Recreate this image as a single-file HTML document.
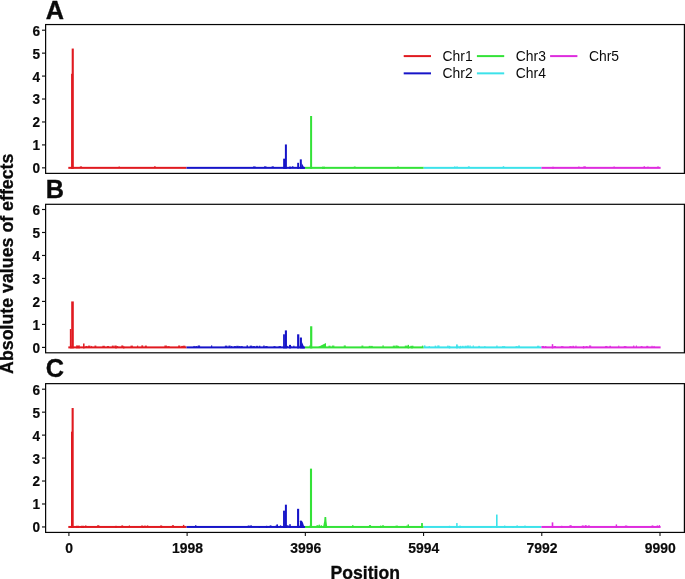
<!DOCTYPE html><html><head><meta charset="utf-8"><title>Figure</title>
<style>html,body{margin:0;padding:0;background:#fff;}body{width:685px;height:579px;overflow:hidden;}svg{display:block;will-change:transform;opacity:0.999;}text{font-family:"Liberation Sans",sans-serif;fill:#0a0a0a;}.b{font-weight:bold;}</style></head><body>
<svg width="685" height="579" viewBox="0 0 685 579">
<rect width="685" height="579" fill="#fff"/>
<g shape-rendering="auto">
<rect x="68.30" y="166.85" width="118.20" height="2.00" fill="#e01a20"/>
<rect x="186.50" y="166.85" width="118.50" height="2.00" fill="#1614c8"/>
<rect x="305.00" y="166.85" width="118.70" height="2.00" fill="#34e238"/>
<rect x="423.70" y="166.85" width="117.70" height="2.00" fill="#3ce2ea"/>
<rect x="541.40" y="166.85" width="119.20" height="2.00" fill="#de2cde"/>
<rect x="71.10" y="73.79" width="2.00" height="95.06" fill="#e01a20"/>
<rect x="71.70" y="48.55" width="2.10" height="120.30" fill="#e01a20"/>
<rect x="283.15" y="158.67" width="1.90" height="10.18" fill="#1614c8"/>
<rect x="284.90" y="144.45" width="2.00" height="24.40" fill="#1614c8"/>
<rect x="289.30" y="166.47" width="1.40" height="2.38" fill="#1614c8"/>
<rect x="297.20" y="162.80" width="1.80" height="6.05" fill="#1614c8"/>
<rect x="299.80" y="159.36" width="2.00" height="9.49" fill="#1614c8"/>
<rect x="310.10" y="116.00" width="2.00" height="52.85" fill="#34e238"/>
<rect x="322.00" y="166.70" width="3.00" height="2.15" fill="#34e238"/>
<rect x="552.40" y="166.70" width="1.20" height="2.15" fill="#de2cde"/>
<rect x="79.84" y="166.45" width="2.19" height="0.90" fill="#e01a20"/>
<rect x="118.63" y="166.45" width="1.08" height="0.90" fill="#e01a20"/>
<rect x="154.09" y="166.30" width="1.56" height="1.05" fill="#e01a20"/>
<rect x="253.05" y="166.49" width="2.58" height="0.86" fill="#1614c8"/>
<rect x="264.03" y="166.41" width="2.45" height="0.94" fill="#1614c8"/>
<rect x="271.62" y="166.39" width="2.21" height="0.96" fill="#1614c8"/>
<rect x="291.89" y="166.30" width="1.54" height="1.05" fill="#1614c8"/>
<rect x="353.82" y="166.55" width="1.79" height="0.80" fill="#34e238"/>
<rect x="397.46" y="166.37" width="1.10" height="0.98" fill="#34e238"/>
<rect x="454.15" y="166.41" width="1.32" height="0.94" fill="#3ce2ea"/>
<rect x="456.21" y="166.55" width="1.71" height="0.80" fill="#3ce2ea"/>
<rect x="467.90" y="166.39" width="1.86" height="0.96" fill="#3ce2ea"/>
<rect x="502.77" y="166.25" width="1.43" height="1.10" fill="#3ce2ea"/>
<rect x="578.14" y="166.58" width="1.42" height="0.77" fill="#de2cde"/>
<rect x="583.32" y="166.38" width="2.52" height="0.97" fill="#de2cde"/>
<rect x="613.36" y="166.60" width="1.61" height="0.75" fill="#de2cde"/>
<rect x="643.58" y="166.28" width="1.43" height="1.07" fill="#de2cde"/>
<rect x="647.46" y="166.55" width="1.06" height="0.80" fill="#de2cde"/>
<rect x="657.49" y="166.23" width="1.05" height="1.12" fill="#de2cde"/>
<polygon points="301.60,168.85 301.60,162.95 304.90,168.85" fill="#1614c8"/>
</g>
<g shape-rendering="auto">
<rect x="68.30" y="346.40" width="118.20" height="2.00" fill="#e01a20"/>
<rect x="186.50" y="346.40" width="118.50" height="2.00" fill="#1614c8"/>
<rect x="305.00" y="346.40" width="118.70" height="2.00" fill="#34e238"/>
<rect x="423.70" y="346.40" width="117.70" height="2.00" fill="#3ce2ea"/>
<rect x="541.40" y="346.40" width="119.20" height="2.00" fill="#de2cde"/>
<rect x="69.85" y="329.01" width="1.50" height="19.39" fill="#e01a20"/>
<rect x="71.20" y="301.43" width="2.60" height="46.97" fill="#e01a20"/>
<rect x="76.25" y="345.33" width="1.50" height="3.07" fill="#e01a20"/>
<rect x="78.25" y="345.33" width="1.50" height="3.07" fill="#e01a20"/>
<rect x="83.05" y="343.49" width="1.50" height="4.91" fill="#e01a20"/>
<rect x="115.25" y="346.48" width="1.50" height="1.92" fill="#e01a20"/>
<rect x="122.95" y="346.48" width="1.50" height="1.92" fill="#e01a20"/>
<rect x="283.10" y="334.30" width="1.80" height="14.10" fill="#1614c8"/>
<rect x="284.85" y="330.39" width="2.10" height="18.01" fill="#1614c8"/>
<rect x="289.00" y="344.87" width="2.00" height="3.53" fill="#1614c8"/>
<rect x="297.10" y="334.30" width="2.20" height="14.10" fill="#1614c8"/>
<rect x="299.85" y="337.52" width="2.10" height="10.88" fill="#1614c8"/>
<rect x="310.10" y="326.26" width="2.20" height="22.14" fill="#34e238"/>
<rect x="407.60" y="344.87" width="1.40" height="3.53" fill="#34e238"/>
<rect x="411.30" y="346.48" width="1.40" height="1.92" fill="#34e238"/>
<rect x="448.80" y="346.02" width="1.40" height="2.38" fill="#3ce2ea"/>
<rect x="456.10" y="344.41" width="1.60" height="3.99" fill="#3ce2ea"/>
<rect x="459.30" y="346.25" width="1.40" height="2.15" fill="#3ce2ea"/>
<rect x="551.75" y="344.18" width="1.50" height="4.22" fill="#de2cde"/>
<rect x="582.90" y="346.02" width="1.40" height="2.38" fill="#de2cde"/>
<polygon points="317.00,347.40 326.00,342.96 326.00,347.40" fill="#34e238"/>
<rect x="70.00" y="345.65" width="1.54" height="1.25" fill="#e01a20"/>
<rect x="76.87" y="345.96" width="2.11" height="0.94" fill="#e01a20"/>
<rect x="85.37" y="345.97" width="2.18" height="0.93" fill="#e01a20"/>
<rect x="88.01" y="345.64" width="2.40" height="1.26" fill="#e01a20"/>
<rect x="91.11" y="345.93" width="1.01" height="0.97" fill="#e01a20"/>
<rect x="94.47" y="345.60" width="1.86" height="1.30" fill="#e01a20"/>
<rect x="102.37" y="345.79" width="2.48" height="1.11" fill="#e01a20"/>
<rect x="106.96" y="345.99" width="2.10" height="0.91" fill="#e01a20"/>
<rect x="111.82" y="345.62" width="1.94" height="1.28" fill="#e01a20"/>
<rect x="114.38" y="345.54" width="2.32" height="1.36" fill="#e01a20"/>
<rect x="116.96" y="346.04" width="1.24" height="0.86" fill="#e01a20"/>
<rect x="121.28" y="345.47" width="2.01" height="1.43" fill="#e01a20"/>
<rect x="130.50" y="345.63" width="2.41" height="1.27" fill="#e01a20"/>
<rect x="136.98" y="345.62" width="1.23" height="1.28" fill="#e01a20"/>
<rect x="141.33" y="345.40" width="1.87" height="1.50" fill="#e01a20"/>
<rect x="144.83" y="345.60" width="2.04" height="1.30" fill="#e01a20"/>
<rect x="164.39" y="345.56" width="2.53" height="1.34" fill="#e01a20"/>
<rect x="167.31" y="346.11" width="2.32" height="0.79" fill="#e01a20"/>
<rect x="178.12" y="345.52" width="2.12" height="1.38" fill="#e01a20"/>
<rect x="181.15" y="345.92" width="1.94" height="0.98" fill="#e01a20"/>
<rect x="182.87" y="345.70" width="2.50" height="1.20" fill="#e01a20"/>
<rect x="193.37" y="345.96" width="1.44" height="0.94" fill="#1614c8"/>
<rect x="195.35" y="346.05" width="2.08" height="0.85" fill="#1614c8"/>
<rect x="197.74" y="345.52" width="2.34" height="1.38" fill="#1614c8"/>
<rect x="211.05" y="345.42" width="1.15" height="1.48" fill="#1614c8"/>
<rect x="224.85" y="345.66" width="2.50" height="1.24" fill="#1614c8"/>
<rect x="228.43" y="345.59" width="2.14" height="1.31" fill="#1614c8"/>
<rect x="231.07" y="345.97" width="1.22" height="0.93" fill="#1614c8"/>
<rect x="233.83" y="346.05" width="2.15" height="0.85" fill="#1614c8"/>
<rect x="236.23" y="345.83" width="2.48" height="1.07" fill="#1614c8"/>
<rect x="238.75" y="346.05" width="1.80" height="0.85" fill="#1614c8"/>
<rect x="240.79" y="346.10" width="1.97" height="0.80" fill="#1614c8"/>
<rect x="246.52" y="345.41" width="1.46" height="1.49" fill="#1614c8"/>
<rect x="249.77" y="345.65" width="2.39" height="1.25" fill="#1614c8"/>
<rect x="252.39" y="346.02" width="2.58" height="0.88" fill="#1614c8"/>
<rect x="255.78" y="345.84" width="2.33" height="1.06" fill="#1614c8"/>
<rect x="258.94" y="345.74" width="1.40" height="1.16" fill="#1614c8"/>
<rect x="263.17" y="345.58" width="1.52" height="1.32" fill="#1614c8"/>
<rect x="265.24" y="346.00" width="2.35" height="0.90" fill="#1614c8"/>
<rect x="273.48" y="346.12" width="2.05" height="0.78" fill="#1614c8"/>
<rect x="278.55" y="346.08" width="2.53" height="0.82" fill="#1614c8"/>
<rect x="286.25" y="345.90" width="1.69" height="1.00" fill="#1614c8"/>
<rect x="290.19" y="346.01" width="1.24" height="0.89" fill="#1614c8"/>
<rect x="293.25" y="345.71" width="1.20" height="1.19" fill="#1614c8"/>
<rect x="299.61" y="345.65" width="2.16" height="1.25" fill="#1614c8"/>
<rect x="309.33" y="345.44" width="1.37" height="1.46" fill="#34e238"/>
<rect x="321.14" y="345.94" width="1.31" height="0.96" fill="#34e238"/>
<rect x="323.00" y="345.86" width="2.51" height="1.04" fill="#34e238"/>
<rect x="328.45" y="345.72" width="2.11" height="1.18" fill="#34e238"/>
<rect x="331.84" y="345.58" width="2.54" height="1.32" fill="#34e238"/>
<rect x="343.72" y="345.49" width="2.13" height="1.41" fill="#34e238"/>
<rect x="361.43" y="345.58" width="1.93" height="1.32" fill="#34e238"/>
<rect x="368.74" y="345.88" width="1.94" height="1.02" fill="#34e238"/>
<rect x="370.67" y="345.91" width="2.14" height="0.99" fill="#34e238"/>
<rect x="382.41" y="345.43" width="1.36" height="1.47" fill="#34e238"/>
<rect x="392.80" y="345.68" width="2.49" height="1.22" fill="#34e238"/>
<rect x="395.50" y="345.47" width="2.08" height="1.43" fill="#34e238"/>
<rect x="397.12" y="345.86" width="1.85" height="1.04" fill="#34e238"/>
<rect x="404.77" y="345.65" width="2.44" height="1.25" fill="#34e238"/>
<rect x="407.14" y="345.87" width="1.33" height="1.03" fill="#34e238"/>
<rect x="410.36" y="345.81" width="1.99" height="1.09" fill="#34e238"/>
<rect x="412.06" y="345.76" width="1.40" height="1.14" fill="#34e238"/>
<rect x="421.92" y="345.64" width="1.08" height="1.26" fill="#34e238"/>
<rect x="423.72" y="345.42" width="1.73" height="1.48" fill="#3ce2ea"/>
<rect x="428.60" y="346.09" width="1.37" height="0.81" fill="#3ce2ea"/>
<rect x="434.68" y="345.65" width="1.51" height="1.25" fill="#3ce2ea"/>
<rect x="437.28" y="345.45" width="2.25" height="1.45" fill="#3ce2ea"/>
<rect x="447.13" y="345.61" width="1.51" height="1.29" fill="#3ce2ea"/>
<rect x="448.81" y="345.83" width="1.30" height="1.07" fill="#3ce2ea"/>
<rect x="455.99" y="345.76" width="2.58" height="1.14" fill="#3ce2ea"/>
<rect x="460.00" y="345.81" width="1.35" height="1.09" fill="#3ce2ea"/>
<rect x="462.03" y="345.80" width="1.62" height="1.10" fill="#3ce2ea"/>
<rect x="464.52" y="345.74" width="2.23" height="1.16" fill="#3ce2ea"/>
<rect x="466.97" y="345.53" width="2.00" height="1.37" fill="#3ce2ea"/>
<rect x="469.47" y="345.43" width="1.19" height="1.47" fill="#3ce2ea"/>
<rect x="472.73" y="345.46" width="1.07" height="1.44" fill="#3ce2ea"/>
<rect x="478.28" y="345.87" width="1.58" height="1.03" fill="#3ce2ea"/>
<rect x="484.20" y="346.12" width="1.29" height="0.78" fill="#3ce2ea"/>
<rect x="496.28" y="345.53" width="1.28" height="1.37" fill="#3ce2ea"/>
<rect x="502.09" y="346.06" width="1.78" height="0.84" fill="#3ce2ea"/>
<rect x="504.07" y="346.04" width="1.13" height="0.86" fill="#3ce2ea"/>
<rect x="515.57" y="346.09" width="2.11" height="0.81" fill="#3ce2ea"/>
<rect x="518.15" y="345.54" width="1.74" height="1.36" fill="#3ce2ea"/>
<rect x="537.04" y="345.73" width="2.34" height="1.17" fill="#3ce2ea"/>
<rect x="541.64" y="345.98" width="2.52" height="0.92" fill="#de2cde"/>
<rect x="544.86" y="346.10" width="1.53" height="0.80" fill="#de2cde"/>
<rect x="553.65" y="346.02" width="2.33" height="0.88" fill="#de2cde"/>
<rect x="560.90" y="346.12" width="2.57" height="0.78" fill="#de2cde"/>
<rect x="569.30" y="346.07" width="2.36" height="0.83" fill="#de2cde"/>
<rect x="572.39" y="345.83" width="1.66" height="1.07" fill="#de2cde"/>
<rect x="575.36" y="345.64" width="1.19" height="1.26" fill="#de2cde"/>
<rect x="585.57" y="346.07" width="2.01" height="0.83" fill="#de2cde"/>
<rect x="588.97" y="345.50" width="2.23" height="1.40" fill="#de2cde"/>
<rect x="605.13" y="345.97" width="2.32" height="0.93" fill="#de2cde"/>
<rect x="609.33" y="345.81" width="1.65" height="1.09" fill="#de2cde"/>
<rect x="618.24" y="345.63" width="1.03" height="1.27" fill="#de2cde"/>
<rect x="623.76" y="346.02" width="1.97" height="0.88" fill="#de2cde"/>
<rect x="625.38" y="346.15" width="1.11" height="0.75" fill="#de2cde"/>
<rect x="633.00" y="345.61" width="1.38" height="1.29" fill="#de2cde"/>
<rect x="635.86" y="345.51" width="1.10" height="1.39" fill="#de2cde"/>
<rect x="640.67" y="346.06" width="1.86" height="0.84" fill="#de2cde"/>
<rect x="646.27" y="345.86" width="2.03" height="1.04" fill="#de2cde"/>
<rect x="651.47" y="345.77" width="1.09" height="1.13" fill="#de2cde"/>
<rect x="653.55" y="345.94" width="1.06" height="0.96" fill="#de2cde"/>
<polygon points="301.80,348.40 301.80,341.80 304.80,348.40" fill="#1614c8"/>
</g>
<g shape-rendering="auto">
<rect x="68.30" y="525.95" width="118.20" height="2.00" fill="#e01a20"/>
<rect x="186.50" y="525.95" width="118.50" height="2.00" fill="#1614c8"/>
<rect x="305.00" y="525.95" width="118.70" height="2.00" fill="#34e238"/>
<rect x="423.70" y="525.95" width="117.70" height="2.00" fill="#3ce2ea"/>
<rect x="541.40" y="525.95" width="119.20" height="2.00" fill="#de2cde"/>
<rect x="71.00" y="431.67" width="2.00" height="96.28" fill="#e01a20"/>
<rect x="71.60" y="408.03" width="2.10" height="119.92" fill="#e01a20"/>
<rect x="76.00" y="525.80" width="3.00" height="2.15" fill="#e01a20"/>
<rect x="81.00" y="525.80" width="3.00" height="2.15" fill="#e01a20"/>
<rect x="115.35" y="525.80" width="1.30" height="2.15" fill="#e01a20"/>
<rect x="142.45" y="526.26" width="1.30" height="1.69" fill="#e01a20"/>
<rect x="160.85" y="526.26" width="1.30" height="1.69" fill="#e01a20"/>
<rect x="182.90" y="524.88" width="1.40" height="3.07" fill="#e01a20"/>
<rect x="258.65" y="526.03" width="1.30" height="1.92" fill="#1614c8"/>
<rect x="265.95" y="525.80" width="1.30" height="2.15" fill="#1614c8"/>
<rect x="276.40" y="524.42" width="1.60" height="3.53" fill="#1614c8"/>
<rect x="283.05" y="510.65" width="1.90" height="17.30" fill="#1614c8"/>
<rect x="284.90" y="504.68" width="2.00" height="23.27" fill="#1614c8"/>
<rect x="289.20" y="524.20" width="1.60" height="3.75" fill="#1614c8"/>
<rect x="297.05" y="508.81" width="2.10" height="19.14" fill="#1614c8"/>
<rect x="309.95" y="468.64" width="2.10" height="59.31" fill="#34e238"/>
<rect x="318.65" y="524.65" width="1.30" height="3.30" fill="#34e238"/>
<rect x="380.05" y="525.57" width="1.30" height="2.38" fill="#34e238"/>
<rect x="407.60" y="524.42" width="1.40" height="3.53" fill="#34e238"/>
<rect x="421.10" y="523.05" width="1.80" height="4.90" fill="#34e238"/>
<rect x="448.85" y="525.80" width="1.30" height="2.15" fill="#3ce2ea"/>
<rect x="456.15" y="523.05" width="1.50" height="4.90" fill="#3ce2ea"/>
<rect x="459.35" y="525.57" width="1.30" height="2.38" fill="#3ce2ea"/>
<rect x="490.15" y="526.03" width="1.30" height="1.92" fill="#3ce2ea"/>
<rect x="496.00" y="514.55" width="1.60" height="13.40" fill="#3ce2ea"/>
<rect x="504.05" y="525.57" width="1.30" height="2.38" fill="#3ce2ea"/>
<rect x="512.35" y="526.03" width="1.30" height="1.92" fill="#3ce2ea"/>
<rect x="551.70" y="522.36" width="1.60" height="5.59" fill="#de2cde"/>
<rect x="561.05" y="525.80" width="1.30" height="2.15" fill="#de2cde"/>
<rect x="573.75" y="526.03" width="1.30" height="1.92" fill="#de2cde"/>
<rect x="584.75" y="525.80" width="1.30" height="2.15" fill="#de2cde"/>
<rect x="615.70" y="524.42" width="1.40" height="3.53" fill="#de2cde"/>
<rect x="84.95" y="525.50" width="1.50" height="0.95" fill="#e01a20"/>
<rect x="97.14" y="525.26" width="2.21" height="1.19" fill="#e01a20"/>
<rect x="121.35" y="525.41" width="1.80" height="1.04" fill="#e01a20"/>
<rect x="128.81" y="525.47" width="1.18" height="0.98" fill="#e01a20"/>
<rect x="141.09" y="525.57" width="2.10" height="0.88" fill="#e01a20"/>
<rect x="144.04" y="525.66" width="1.81" height="0.79" fill="#e01a20"/>
<rect x="146.82" y="525.44" width="1.44" height="1.01" fill="#e01a20"/>
<rect x="160.14" y="525.47" width="2.04" height="0.98" fill="#e01a20"/>
<rect x="171.91" y="525.24" width="2.05" height="1.21" fill="#e01a20"/>
<rect x="195.11" y="525.19" width="1.25" height="1.26" fill="#1614c8"/>
<rect x="247.72" y="525.53" width="1.94" height="0.92" fill="#1614c8"/>
<rect x="250.12" y="525.43" width="1.88" height="1.02" fill="#1614c8"/>
<rect x="269.69" y="525.39" width="1.78" height="1.06" fill="#1614c8"/>
<rect x="275.54" y="525.56" width="1.50" height="0.89" fill="#1614c8"/>
<rect x="279.93" y="525.38" width="1.25" height="1.07" fill="#1614c8"/>
<rect x="286.01" y="525.30" width="2.54" height="1.15" fill="#1614c8"/>
<rect x="299.38" y="525.64" width="1.68" height="0.81" fill="#1614c8"/>
<rect x="309.71" y="525.14" width="1.04" height="1.31" fill="#34e238"/>
<rect x="316.46" y="525.21" width="2.10" height="1.24" fill="#34e238"/>
<rect x="320.72" y="525.12" width="1.09" height="1.33" fill="#34e238"/>
<rect x="352.08" y="525.14" width="1.40" height="1.31" fill="#34e238"/>
<rect x="368.95" y="525.12" width="2.10" height="1.33" fill="#34e238"/>
<rect x="381.99" y="525.36" width="2.04" height="1.09" fill="#34e238"/>
<rect x="395.56" y="525.62" width="2.36" height="0.83" fill="#34e238"/>
<rect x="406.26" y="525.65" width="1.56" height="0.80" fill="#34e238"/>
<rect x="516.40" y="525.44" width="1.51" height="1.01" fill="#3ce2ea"/>
<rect x="524.48" y="525.43" width="1.05" height="1.02" fill="#3ce2ea"/>
<rect x="569.44" y="525.21" width="2.23" height="1.24" fill="#de2cde"/>
<rect x="581.75" y="525.42" width="2.04" height="1.03" fill="#de2cde"/>
<rect x="584.72" y="525.22" width="2.00" height="1.23" fill="#de2cde"/>
<rect x="587.81" y="525.45" width="2.00" height="1.00" fill="#de2cde"/>
<rect x="624.91" y="525.55" width="2.41" height="0.90" fill="#de2cde"/>
<rect x="651.60" y="525.41" width="1.77" height="1.04" fill="#de2cde"/>
<rect x="656.66" y="525.47" width="1.67" height="0.98" fill="#de2cde"/>
<rect x="658.91" y="525.15" width="1.09" height="1.30" fill="#de2cde"/>
<polygon points="299.90,527.95 300.00,521.36 300.70,520.21 302.00,520.90 303.00,522.74 304.60,527.95" fill="#1614c8"/>
<polygon points="322.90,527.95 324.20,521.36 324.50,517.00 326.20,517.00 326.50,521.36 327.30,527.95" fill="#34e238"/>
</g>
<rect x="45.62" y="24.55" width="638.78" height="148.83" fill="none" stroke="#050505" stroke-width="1.2"/>
<line x1="42.0" x2="45.62" y1="167.85" y2="167.85" stroke="#111" stroke-width="1.15"/>
<text class="b" transform="translate(40.1,173.30) scale(0.925,1)" font-size="14.7" text-anchor="end" stroke="#0a0a0a" stroke-width="0.2">0</text>
<line x1="42.0" x2="45.62" y1="144.91" y2="144.91" stroke="#111" stroke-width="1.15"/>
<text class="b" transform="translate(40.1,150.36) scale(0.925,1)" font-size="14.7" text-anchor="end" stroke="#0a0a0a" stroke-width="0.2">1</text>
<line x1="42.0" x2="45.62" y1="121.97" y2="121.97" stroke="#111" stroke-width="1.15"/>
<text class="b" transform="translate(40.1,127.42) scale(0.925,1)" font-size="14.7" text-anchor="end" stroke="#0a0a0a" stroke-width="0.2">2</text>
<line x1="42.0" x2="45.62" y1="99.02" y2="99.02" stroke="#111" stroke-width="1.15"/>
<text class="b" transform="translate(40.1,104.47) scale(0.925,1)" font-size="14.7" text-anchor="end" stroke="#0a0a0a" stroke-width="0.2">3</text>
<line x1="42.0" x2="45.62" y1="76.08" y2="76.08" stroke="#111" stroke-width="1.15"/>
<text class="b" transform="translate(40.1,81.53) scale(0.925,1)" font-size="14.7" text-anchor="end" stroke="#0a0a0a" stroke-width="0.2">4</text>
<line x1="42.0" x2="45.62" y1="53.14" y2="53.14" stroke="#111" stroke-width="1.15"/>
<text class="b" transform="translate(40.1,58.59) scale(0.925,1)" font-size="14.7" text-anchor="end" stroke="#0a0a0a" stroke-width="0.2">5</text>
<line x1="42.0" x2="45.62" y1="30.20" y2="30.20" stroke="#111" stroke-width="1.15"/>
<text class="b" transform="translate(40.1,35.65) scale(0.925,1)" font-size="14.7" text-anchor="end" stroke="#0a0a0a" stroke-width="0.2">6</text>
<rect x="45.62" y="204.30" width="638.78" height="148.50" fill="none" stroke="#050505" stroke-width="1.2"/>
<line x1="42.0" x2="45.62" y1="347.40" y2="347.40" stroke="#111" stroke-width="1.15"/>
<text class="b" transform="translate(40.1,352.85) scale(0.925,1)" font-size="14.7" text-anchor="end" stroke="#0a0a0a" stroke-width="0.2">0</text>
<line x1="42.0" x2="45.62" y1="324.42" y2="324.42" stroke="#111" stroke-width="1.15"/>
<text class="b" transform="translate(40.1,329.87) scale(0.925,1)" font-size="14.7" text-anchor="end" stroke="#0a0a0a" stroke-width="0.2">1</text>
<line x1="42.0" x2="45.62" y1="301.43" y2="301.43" stroke="#111" stroke-width="1.15"/>
<text class="b" transform="translate(40.1,306.88) scale(0.925,1)" font-size="14.7" text-anchor="end" stroke="#0a0a0a" stroke-width="0.2">2</text>
<line x1="42.0" x2="45.62" y1="278.45" y2="278.45" stroke="#111" stroke-width="1.15"/>
<text class="b" transform="translate(40.1,283.90) scale(0.925,1)" font-size="14.7" text-anchor="end" stroke="#0a0a0a" stroke-width="0.2">3</text>
<line x1="42.0" x2="45.62" y1="255.47" y2="255.47" stroke="#111" stroke-width="1.15"/>
<text class="b" transform="translate(40.1,260.92) scale(0.925,1)" font-size="14.7" text-anchor="end" stroke="#0a0a0a" stroke-width="0.2">4</text>
<line x1="42.0" x2="45.62" y1="232.48" y2="232.48" stroke="#111" stroke-width="1.15"/>
<text class="b" transform="translate(40.1,237.93) scale(0.925,1)" font-size="14.7" text-anchor="end" stroke="#0a0a0a" stroke-width="0.2">5</text>
<line x1="42.0" x2="45.62" y1="209.50" y2="209.50" stroke="#111" stroke-width="1.15"/>
<text class="b" transform="translate(40.1,214.95) scale(0.925,1)" font-size="14.7" text-anchor="end" stroke="#0a0a0a" stroke-width="0.2">6</text>
<rect x="45.62" y="383.65" width="638.78" height="148.77" fill="none" stroke="#050505" stroke-width="1.2"/>
<line x1="42.0" x2="45.62" y1="526.95" y2="526.95" stroke="#111" stroke-width="1.15"/>
<text class="b" transform="translate(40.1,532.40) scale(0.925,1)" font-size="14.7" text-anchor="end" stroke="#0a0a0a" stroke-width="0.2">0</text>
<line x1="42.0" x2="45.62" y1="503.99" y2="503.99" stroke="#111" stroke-width="1.15"/>
<text class="b" transform="translate(40.1,509.44) scale(0.925,1)" font-size="14.7" text-anchor="end" stroke="#0a0a0a" stroke-width="0.2">1</text>
<line x1="42.0" x2="45.62" y1="481.03" y2="481.03" stroke="#111" stroke-width="1.15"/>
<text class="b" transform="translate(40.1,486.48) scale(0.925,1)" font-size="14.7" text-anchor="end" stroke="#0a0a0a" stroke-width="0.2">2</text>
<line x1="42.0" x2="45.62" y1="458.08" y2="458.08" stroke="#111" stroke-width="1.15"/>
<text class="b" transform="translate(40.1,463.53) scale(0.925,1)" font-size="14.7" text-anchor="end" stroke="#0a0a0a" stroke-width="0.2">3</text>
<line x1="42.0" x2="45.62" y1="435.12" y2="435.12" stroke="#111" stroke-width="1.15"/>
<text class="b" transform="translate(40.1,440.57) scale(0.925,1)" font-size="14.7" text-anchor="end" stroke="#0a0a0a" stroke-width="0.2">4</text>
<line x1="42.0" x2="45.62" y1="412.16" y2="412.16" stroke="#111" stroke-width="1.15"/>
<text class="b" transform="translate(40.1,417.61) scale(0.925,1)" font-size="14.7" text-anchor="end" stroke="#0a0a0a" stroke-width="0.2">5</text>
<line x1="42.0" x2="45.62" y1="389.20" y2="389.20" stroke="#111" stroke-width="1.15"/>
<text class="b" transform="translate(40.1,394.65) scale(0.925,1)" font-size="14.7" text-anchor="end" stroke="#0a0a0a" stroke-width="0.2">6</text>
<line x1="68.90" x2="68.90" y1="532.42" y2="536" stroke="#111" stroke-width="1.1"/>
<text class="b" transform="translate(69.20,553.3) scale(0.955,1)" font-size="14.6" text-anchor="middle" stroke="#0a0a0a" stroke-width="0.2">0</text>
<line x1="187.12" x2="187.12" y1="532.42" y2="536" stroke="#111" stroke-width="1.1"/>
<text class="b" transform="translate(187.42,553.3) scale(0.955,1)" font-size="14.6" text-anchor="middle" stroke="#0a0a0a" stroke-width="0.2">1998</text>
<line x1="305.34" x2="305.34" y1="532.42" y2="536" stroke="#111" stroke-width="1.1"/>
<text class="b" transform="translate(305.64,553.3) scale(0.955,1)" font-size="14.6" text-anchor="middle" stroke="#0a0a0a" stroke-width="0.2">3996</text>
<line x1="423.56" x2="423.56" y1="532.42" y2="536" stroke="#111" stroke-width="1.1"/>
<text class="b" transform="translate(423.86,553.3) scale(0.955,1)" font-size="14.6" text-anchor="middle" stroke="#0a0a0a" stroke-width="0.2">5994</text>
<line x1="541.78" x2="541.78" y1="532.42" y2="536" stroke="#111" stroke-width="1.1"/>
<text class="b" transform="translate(542.08,553.3) scale(0.955,1)" font-size="14.6" text-anchor="middle" stroke="#0a0a0a" stroke-width="0.2">7992</text>
<line x1="660.00" x2="660.00" y1="532.42" y2="536" stroke="#111" stroke-width="1.1"/>
<text class="b" transform="translate(660.30,553.3) scale(0.955,1)" font-size="14.6" text-anchor="middle" stroke="#0a0a0a" stroke-width="0.2">9990</text>
<text class="b" transform="translate(45.7,18.65) scale(0.95,1)" font-size="26.6" stroke="#0a0a0a" stroke-width="0.35">A</text>
<text class="b" transform="translate(45.7,197.70) scale(0.95,1)" font-size="26.6" stroke="#0a0a0a" stroke-width="0.35">B</text>
<text class="b" transform="translate(45.7,377.30) scale(0.95,1)" font-size="26.6" stroke="#0a0a0a" stroke-width="0.35">C</text>
<line x1="403.70" x2="431.00" y1="56.10" y2="56.10" stroke="#e01a20" stroke-width="2"/>
<text x="442.55" y="61.05" font-size="13.9">Chr1</text>
<line x1="403.70" x2="431.00" y1="73.35" y2="73.35" stroke="#1614c8" stroke-width="2"/>
<text x="442.55" y="78.20" font-size="13.9">Chr2</text>
<line x1="476.90" x2="504.20" y1="56.10" y2="56.10" stroke="#34e238" stroke-width="2"/>
<text x="515.75" y="61.05" font-size="13.9">Chr3</text>
<line x1="476.90" x2="504.20" y1="73.35" y2="73.35" stroke="#3ce2ea" stroke-width="2"/>
<text x="515.75" y="78.20" font-size="13.9">Chr4</text>
<line x1="550.10" x2="577.40" y1="56.10" y2="56.10" stroke="#de2cde" stroke-width="2"/>
<text x="588.95" y="61.05" font-size="13.9">Chr5</text>
<text class="b" x="365.2" y="579.25" font-size="17.6" text-anchor="middle" stroke="#0a0a0a" stroke-width="0.3">Position</text>
<text class="b" transform="translate(13.2,263.75) rotate(-90)" font-size="17.8" text-anchor="middle" stroke="#0a0a0a" stroke-width="0.3">Absolute values of effects</text>
</svg></body></html>
